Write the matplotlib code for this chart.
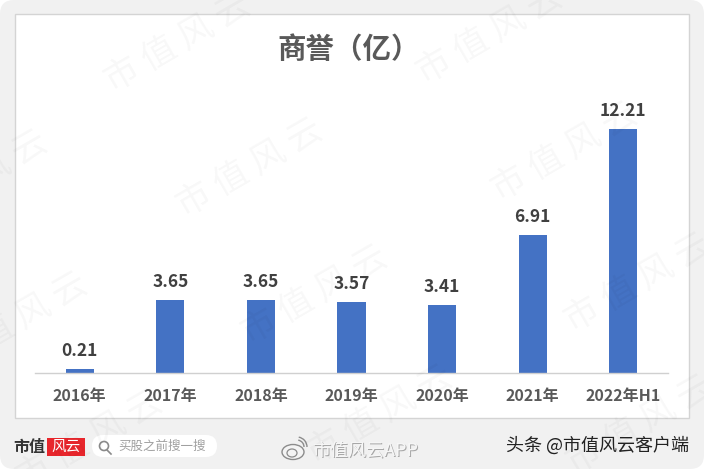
"""商誉 bar chart
"""
import matplotlib
matplotlib.use("Agg")
import matplotlib.pyplot as plt
from matplotlib.patches import Arc, FancyBboxPatch, Rectangle, Ellipse

plt.rcParams["font.family"] = ["Noto Sans CJK SC", "DejaVu Sans"]

categories = ["2016年", "2017年", "2018年", "2019年", "2020年", "2021年", "2022年H1"]
values = [0.21, 3.65, 3.65, 3.57, 3.41, 6.91, 12.21]
labels = ["0.21", "3.65", "3.65", "3.57", "3.41", "6.91", "12.21"]
title = "商誉（亿）"
watermark = "市 值 风 云"
watermark_centers = [
    (178, 43), (250, 168), (490, 35), (565, 152), (15, 322), (315, 295),
    (638, 283), (90, 440), (380, 415), (640, 425), (-25, 180),
]

W, H = 704, 469
fig = plt.figure(figsize=(W / 100, H / 100), dpi=100, facecolor="white")

# page background, pixel coordinates
bg = fig.add_axes([0, 0, 1, 1], zorder=0)
bg.set_xlim(0, W)
bg.set_ylim(H, 0)
bg.axis("off")
bg.add_patch(FancyBboxPatch((0, 0), W, H, boxstyle="round,pad=0,rounding_size=14",
                            fc="#f1f1f1", ec="none"))
bg.add_patch(Rectangle((14.5, 14.5), 674, 404, fc="white", ec="#d4d4d4", lw=1))

# chart
ax = fig.add_axes([34.5 / W, 1 - 373 / H, 634 / W, 262 / H], zorder=1)
ax.patch.set_alpha(0)
ax.bar(range(len(values)), values, width=0.31, color="#4472c4")
ax.set_xlim(-0.5, len(values) - 0.5)
ax.set_ylim(0, 262 / 20.02)
ax.set_yticks([])
for s in ["top", "left", "right"]:
    ax.spines[s].set_visible(False)
ax.spines["bottom"].set_color("#d0d0d0")
ax.spines["bottom"].set_linewidth(1)
ax.set_xticks(range(len(categories)))
ax.set_xticklabels(categories, fontsize=11.5, fontweight="bold", color="#595959")
ax.tick_params(axis="x", length=0, pad=10.5)
for i, v in enumerate(values):
    ax.annotate(labels[i], (i, v), xytext=(0, 6.5), textcoords="offset points",
                ha="center", va="bottom", fontsize=12.5, fontweight="bold", color="#404040")

# overlay: title, watermark, footer
top = fig.add_axes([0, 0, 1, 1], zorder=2)
top.set_xlim(0, W)
top.set_ylim(H, 0)
top.axis("off")
top.patch.set_alpha(0)
top.text(349, 50, title, fontsize=20.5, fontweight="bold", color="#595959",
         ha="center", va="center")
for x, y in watermark_centers:
    top.text(x, y, watermark, fontsize=25, color="#000000", alpha=0.03, rotation=30,
             ha="center", va="center", rotation_mode="anchor")

top.text(13, 447, "市值", fontsize=11.5, fontweight="bold", color="#333333",
         ha="left", va="center")
top.add_patch(Rectangle((47, 438), 38, 18, fc="#e8262c", ec="none"))
top.text(66, 447, "风云", fontsize=10.5, color="white", style="italic", ha="center", va="center")
top.add_patch(FancyBboxPatch((92, 435), 125, 22, boxstyle="round,pad=0,rounding_size=11",
                             fc="white", ec="none"))
top.add_patch(Ellipse((104, 446), 9, 9, fc="none", ec="#8a8a8a", lw=1.2))
top.plot([107, 111], [450, 454], color="#8a8a8a", lw=1.2)
top.text(118, 446, "买股之前搜一搜", fontsize=9, color="#a0a0a0", ha="left", va="center")

# weibo mark
top.add_patch(Ellipse((293, 452), 22, 15, fc="#f4f4f4", ec="#8c8c8c", lw=1))
top.add_patch(Ellipse((292, 453), 10, 8, fc="none", ec="#8c8c8c", lw=0.9))
top.add_patch(Arc((297, 447), 14, 14, theta1=-80, theta2=0, ec="#8c8c8c", lw=1))
top.add_patch(Arc((297, 447), 20, 20, theta1=-80, theta2=0, ec="#8c8c8c", lw=1))
top.text(366.5, 451.5, "市值风云APP", fontsize=13, color="#a8a8a8", ha="center", va="center")
top.text(365.5, 450.5, "市值风云APP", fontsize=13, color="#f6f6f6", ha="center", va="center")
top.text(506, 446, "头条 @市值风云客户端", fontsize=13, color="#222222", ha="left", va="center")

fig.savefig("out.png", dpi=100, facecolor=fig.get_facecolor())
